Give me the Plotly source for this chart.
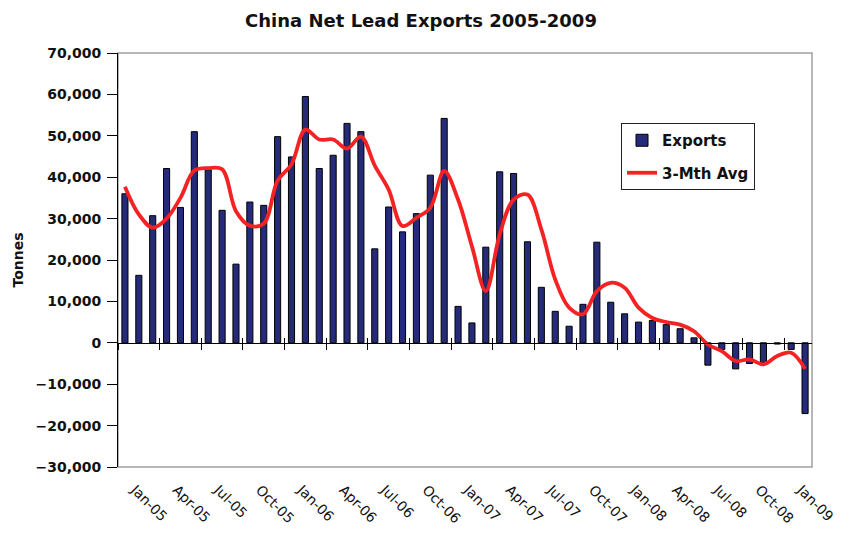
import plotly.graph_objects as go

months = ["Jan-05","Feb-05","Mar-05","Apr-05","May-05","Jun-05","Jul-05","Aug-05","Sep-05","Oct-05","Nov-05","Dec-05",
          "Jan-06","Feb-06","Mar-06","Apr-06","May-06","Jun-06","Jul-06","Aug-06","Sep-06","Oct-06","Nov-06","Dec-06",
          "Jan-07","Feb-07","Mar-07","Apr-07","May-07","Jun-07","Jul-07","Aug-07","Sep-07","Oct-07","Nov-07","Dec-07",
          "Jan-08","Feb-08","Mar-08","Apr-08","May-08","Jun-08","Jul-08","Aug-08","Sep-08","Oct-08","Nov-08","Dec-08",
          "Jan-09","Feb-09"]

exports = [36000, 16300, 30700, 42100, 32700, 51000, 41800, 32000, 19000, 34000, 33200, 49800,
           44900, 59500, 42100, 45300, 53000, 51000, 22700, 32800, 26800, 31200, 40500, 54200,
           8800, 4800, 23100, 41300, 40900, 24400, 13400, 7600, 4000, 9300, 24300, 9800,
           7000, 5000, 5400, 4400, 3400, 1200, -5400, -1600, -6300, -5000, -4800, -300,
           -1600, -17100]

avg3 = [37700, 31000, 27800, 30000, 35000, 41600, 42200, 41900, 31800, 28300, 28800, 39200,
        43100, 51500, 49100, 49100, 46900, 49800, 42800, 37000, 28200, 30200, 32600, 41500,
        34600, 23300, 12500, 26200, 34600, 35800, 27400, 15300, 8500, 6900, 12500, 14500,
        13300, 8500, 6000, 5000, 4400, 2800, -400, -2000, -4400, -4000, -5200, -3200,
        -2400, -6300]

tick_labels = months[::3]

FONT = "DejaVu Sans, Liberation Sans, Arial"

fig = go.Figure()
fig.add_trace(go.Bar(x=months, y=exports, name="Exports",
                     marker=dict(color="#252B78", line=dict(color="#000000", width=1)),
                     legendgroup="a"))
fig.add_trace(go.Scatter(x=months, y=avg3, name="3-Mth Avg", mode="lines",
                         line=dict(color="#F42222", width=3.8, shape="spline", smoothing=1.0),
                         legendgroup="b"))
# invisible helper traces so the extra category axes know the categories
for ax in ("x2", "x3"):
    fig.add_trace(go.Scatter(x=months, y=avg3, xaxis=ax, mode="markers",
                             marker=dict(opacity=0), showlegend=False, hoverinfo="skip"))

cat_common = dict(type="category", categoryorder="array", categoryarray=months,
                  range=[-0.5, len(months)-0.5], showgrid=False, zeroline=False)

fig.update_layout(
    width=861, height=542,
    margin=dict(l=118, r=49, t=53, b=75),
    paper_bgcolor="white", plot_bgcolor="white",
    bargap=0.56,
    title=dict(text="China Net Lead Exports 2005-2009", x=421/861, xref="container",
               xanchor="center", y=1-21/542, yanchor="middle",
               font=dict(family=FONT, size=18, color="#111111", weight="bold")),
    font=dict(family=FONT, color="#111111"),
    xaxis=dict(**cat_common, anchor="free", position=0.3,
               showline=True, linecolor="#000000", linewidth=1,
               ticks="outside", ticklen=6, tickcolor="#000000", tickson="boundaries",
               tickmode="linear", tick0=0, dtick=3, showticklabels=False),
    xaxis3=dict(**cat_common, overlaying="x", anchor="free", position=0.3,
                showline=False, ticks="inside", ticklen=5, tickcolor="#000000",
                tickson="boundaries", tickmode="linear", tick0=0, dtick=3,
                showticklabels=False),
    xaxis2=dict(**cat_common, overlaying="x", anchor="y", side="bottom",
                showline=False, ticks="", tickmode="array", tickvals=tick_labels, ticktext=tick_labels,
                tickangle=45, tickfont=dict(family=FONT, size=14, color="#111111"),
                ticklabelstandoff=11, ticklabelshift=10),
    yaxis=dict(range=[-30000, 70000], tickmode="linear", tick0=-30000, dtick=10000,
               tickformat=",d", showline=True, linecolor="#000000", linewidth=1,
               ticks="outside", ticklen=10, tickcolor="#000000", ticklabelstandoff=3,
               tickfont=dict(family=FONT, size=14, color="#111111", weight="bold"),
               showgrid=False, zeroline=False,
               title=dict(text="Tonnes", font=dict(family=FONT, size=14, color="#111111", weight="bold"),
                          standoff=8)),
    legend=dict(x=(621-118)/694, y=1-(123-53)/414, xanchor="left", yanchor="top",
                bgcolor="white", bordercolor="#222222", borderwidth=1,
                font=dict(family=FONT, size=15, color="#111111", weight="bold"),
                traceorder="grouped", tracegroupgap=10),
    shapes=[dict(type="rect", xref="paper", yref="paper", x0=0, x1=1, y0=0, y1=1,
                 line=dict(color="#A0A0A0", width=1.5), layer="below")],
)

fig.write_html("out.html")
